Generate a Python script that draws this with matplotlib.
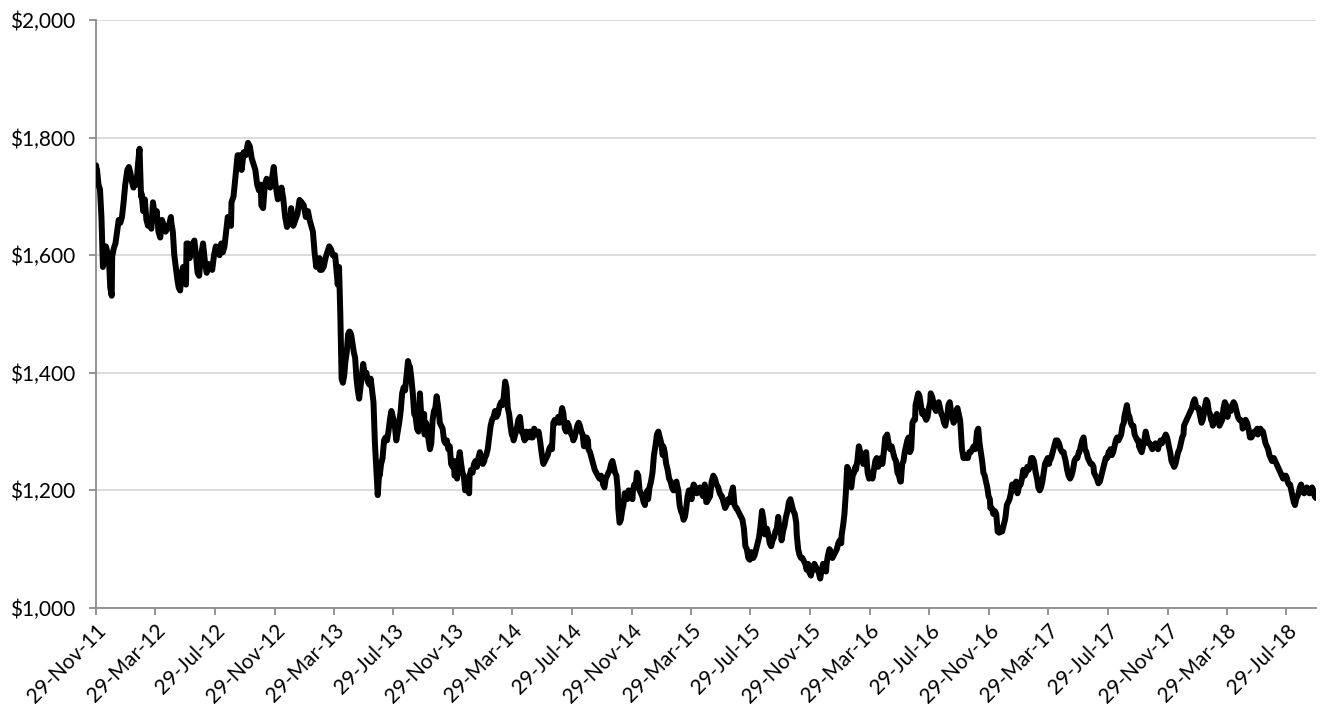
import numpy as np
import pandas as pd
import matplotlib
matplotlib.use('Agg')
import matplotlib.pyplot as plt
import matplotlib.dates as mdates
from matplotlib.ticker import FuncFormatter, MultipleLocator

# Gold price (USD/oz), grouped by month.
# Each inner list holds the readings for one month, in order.
p2011 = [
    [1753, 1746],
    [1745, 1720, 1712, 1665, 1580, 1592, 1615, 1606, 1600, 1545, 1531],
]
p2012 = [
    [1598, 1612, 1620, 1640, 1660, 1655, 1665, 1690, 1720, 1740],
    [1745, 1750, 1740, 1725, 1715, 1730, 1720, 1755, 1781, 1700],
    [1705, 1675, 1695, 1660, 1650, 1655, 1645, 1690, 1670, 1662],
    [1675, 1640, 1630, 1660, 1650, 1640, 1645, 1652, 1665],
    [1655, 1640, 1600, 1580, 1560, 1545, 1540, 1570, 1580, 1560, 1550],
    [1620, 1620, 1595, 1610, 1620, 1625, 1600, 1570, 1565, 1595],
    [1600, 1620, 1590, 1570, 1585, 1580, 1575, 1600, 1615],
    [1605, 1610, 1600, 1620, 1605, 1615, 1640, 1665, 1660, 1650],
    [1690, 1700, 1735, 1770, 1770, 1745, 1775, 1770],
    [1775, 1791, 1785, 1765, 1755, 1745, 1720, 1710, 1720],
    [1685, 1680, 1720, 1730, 1725, 1715, 1730, 1750, 1720],
    [1715, 1695, 1700, 1715, 1695, 1665, 1648, 1655, 1665],
]
p2013 = [
    [1680, 1650, 1660, 1670, 1694, 1690, 1685, 1665],
    [1670, 1675, 1660, 1650, 1640, 1605, 1580, 1590, 1595],
    [1575, 1575, 1580, 1595, 1605, 1615, 1610, 1600, 1598],
    [1600, 1575, 1550, 1580, 1500, 1390, 1383, 1395, 1420, 1435, 1465, 1470],
    [1470, 1465, 1450, 1435, 1425, 1390, 1370, 1356, 1375, 1395, 1415, 1400],
    [1395, 1400, 1385, 1380, 1390, 1370, 1350, 1280, 1235, 1192, 1230],
    [1225, 1245, 1255, 1285, 1290, 1285, 1300, 1320, 1335, 1325, 1315],
    [1310, 1285, 1300, 1315, 1335, 1365, 1375, 1370, 1395, 1420, 1410],
    [1410, 1390, 1365, 1330, 1325, 1305, 1300, 1365, 1325, 1325, 1330],
    [1295, 1315, 1305, 1285, 1270, 1280, 1320, 1335, 1340, 1360, 1345, 1325],
    [1315, 1310, 1305, 1285, 1280, 1285, 1270, 1275, 1245, 1240, 1250],
    [1225, 1230, 1220, 1250, 1265, 1245, 1230, 1225, 1200, 1205, 1210, 1195],
]
p2014 = [
    [1225, 1235, 1230, 1245, 1250, 1240, 1255, 1265, 1255, 1245, 1250],
    [1255, 1260, 1270, 1290, 1310, 1320, 1325, 1335, 1325, 1330],
    [1335, 1345, 1350, 1345, 1360, 1385, 1375, 1340, 1330, 1310, 1295, 1290],
    [1285, 1295, 1305, 1320, 1325, 1300, 1295, 1285, 1300, 1290],
    [1295, 1300, 1290, 1290, 1305, 1300, 1295, 1300, 1285, 1265, 1248],
    [1245, 1250, 1255, 1260, 1270, 1275, 1270, 1315, 1320, 1315, 1320],
    [1325, 1315, 1325, 1340, 1330, 1305, 1300, 1315, 1310, 1300, 1295, 1290],
    [1285, 1290, 1300, 1310, 1315, 1310, 1300, 1295, 1275, 1280, 1290, 1285],
    [1270, 1265, 1255, 1245, 1235, 1230, 1225, 1220, 1225, 1215],
    [1210, 1205, 1220, 1225, 1230, 1235, 1245, 1250, 1240, 1230, 1225, 1200],
    [1170, 1145, 1150, 1165, 1175, 1195, 1195, 1185, 1200, 1195, 1190, 1185],
    [1200, 1210, 1205, 1230, 1225, 1200, 1195, 1190, 1180, 1175, 1195, 1200],
]
p2015 = [
    [1185, 1205, 1215, 1230, 1260, 1275, 1295, 1300, 1290, 1280, 1260],
    [1275, 1265, 1245, 1235, 1220, 1215, 1205, 1200, 1210, 1215],
    [1210, 1200, 1175, 1165, 1160, 1150, 1155, 1170, 1190, 1200, 1195, 1185],
    [1200, 1210, 1205, 1195, 1200, 1205, 1195, 1190, 1210, 1180],
    [1180, 1185, 1190, 1215, 1225, 1220, 1210, 1205, 1195, 1190],
    [1190, 1180, 1170, 1175, 1185, 1180, 1195, 1205, 1175, 1170],
    [1170, 1165, 1160, 1155, 1150, 1135, 1105, 1100, 1085, 1082, 1095],
    [1090, 1085, 1090, 1100, 1110, 1120, 1140, 1165, 1150, 1125, 1135],
    [1135, 1125, 1110, 1105, 1115, 1120, 1130, 1135, 1155, 1130, 1125],
    [1115, 1130, 1140, 1155, 1165, 1180, 1185, 1175, 1165, 1160, 1145],
    [1125, 1100, 1090, 1085, 1085, 1080, 1075, 1065, 1075, 1060, 1055],
    [1060, 1065, 1075, 1070, 1065, 1060, 1050, 1065, 1075, 1070, 1062],
]
p2016 = [
    [1075, 1090, 1100, 1095, 1085, 1090, 1095, 1100, 1110, 1115, 1110],
    [1125, 1140, 1160, 1195, 1240, 1235, 1210, 1205, 1225, 1230, 1240],
    [1235, 1250, 1275, 1265, 1260, 1245, 1250, 1265, 1230, 1220, 1230],
    [1230, 1220, 1235, 1250, 1255, 1240, 1250, 1255, 1245, 1265, 1290],
    [1290, 1295, 1280, 1270, 1275, 1265, 1255, 1250, 1230, 1225, 1215],
    [1215, 1245, 1250, 1265, 1275, 1285, 1290, 1265, 1270, 1315, 1320, 1320],
    [1345, 1355, 1365, 1360, 1345, 1330, 1335, 1325, 1320, 1325, 1340, 1350],
    [1365, 1360, 1350, 1340, 1335, 1345, 1350, 1340, 1330, 1325, 1315, 1310],
    [1315, 1325, 1345, 1350, 1335, 1325, 1315, 1320, 1335, 1340, 1330, 1320],
    [1310, 1270, 1255, 1255, 1260, 1255, 1265, 1265, 1270, 1275, 1270],
    [1275, 1300, 1305, 1280, 1265, 1250, 1230, 1225, 1215, 1205, 1190, 1185],
    [1170, 1170, 1160, 1165, 1160, 1130, 1128, 1135, 1130, 1140, 1150],
]
p2017 = [
    [1155, 1175, 1180, 1185, 1195, 1210, 1200, 1210, 1215, 1195, 1205, 1210],
    [1210, 1220, 1235, 1225, 1230, 1240, 1235, 1240, 1255, 1255, 1250],
    [1245, 1230, 1220, 1205, 1200, 1205, 1215, 1230, 1245, 1250, 1255, 1245],
    [1250, 1255, 1265, 1275, 1285, 1285, 1280, 1270, 1265, 1265],
    [1260, 1250, 1235, 1225, 1220, 1225, 1235, 1250, 1255, 1255, 1265],
    [1265, 1275, 1285, 1290, 1270, 1265, 1255, 1250, 1245, 1245, 1240],
    [1230, 1225, 1220, 1212, 1215, 1225, 1235, 1245, 1255, 1255, 1265],
    [1265, 1270, 1260, 1265, 1275, 1285, 1290, 1285, 1290, 1295, 1310, 1315],
    [1325, 1335, 1345, 1330, 1325, 1315, 1310, 1310, 1295, 1290, 1285, 1285],
    [1275, 1270, 1265, 1275, 1285, 1300, 1290, 1280, 1280, 1275, 1270, 1275],
    [1275, 1280, 1275, 1270, 1280, 1285, 1280, 1285, 1290, 1295, 1290, 1280],
    [1275, 1265, 1250, 1245, 1240, 1245, 1255, 1265, 1270, 1280, 1290, 1295],
]
p2018 = [
    [1310, 1315, 1320, 1325, 1330, 1335, 1340, 1350, 1355, 1345, 1340, 1340],
    [1335, 1325, 1315, 1320, 1330, 1345, 1354, 1350, 1335, 1330, 1320, 1315],
    [1310, 1320, 1325, 1330, 1320, 1310, 1315, 1320, 1340, 1350, 1345, 1325],
    [1335, 1340, 1335, 1345, 1350, 1345, 1335, 1325, 1320, 1320, 1315],
    [1305, 1310, 1320, 1315, 1305, 1290, 1290, 1295, 1300, 1300, 1305],
    [1295, 1300, 1305, 1300, 1300, 1290, 1280, 1275, 1270, 1260, 1255, 1250],
    [1250, 1255, 1250, 1245, 1240, 1235, 1230, 1225, 1220, 1225, 1225, 1220],
    [1215, 1210, 1210, 1200, 1190, 1180, 1175, 1185, 1190, 1195, 1205, 1210, 1200],
    [1200, 1195, 1200, 1205, 1200, 1195, 1200, 1205, 1200, 1190, 1187],
]

first_day = pd.Timestamp('2011-11-29')
last_day = pd.Timestamp('2018-09-28')

# Spread each month's readings over the days of that month
monthly = p2011 + p2012 + p2013 + p2014 + p2015 + p2016 + p2017 + p2018
months = pd.period_range('2011-11', '2018-09', freq='M')
dates, prices = [], []
for per, vals in zip(months, monthly):
    lo = max(per.start_time, first_day)
    hi = min(per.end_time.normalize(), last_day)
    span = (hi - lo).days
    for k, v in enumerate(vals):
        frac = k / (len(vals) - 1) if len(vals) > 1 else 0
        dates.append(lo + pd.Timedelta(days=span * frac))
        prices.append(v)

tick_dates = pd.date_range('2011-11-01', '2018-07-01', freq='4MS') + pd.Timedelta(days=28)

plt.rcParams['font.family'] = ['Lato', 'DejaVu Sans']

fig = plt.figure(figsize=(13.25, 7.15), dpi=100, facecolor='white')
ax = fig.add_axes([0.0725, 0.1497, 0.9207, 0.8223])

ax.plot(dates, prices, color='black', linewidth=4.3, solid_joinstyle='round',
        solid_capstyle='round', zorder=3)

ax.set_ylim(1000, 2000)
ax.yaxis.set_major_locator(MultipleLocator(200))
ax.yaxis.set_major_formatter(FuncFormatter(lambda v, p: '${:,.0f}'.format(v)))
ax.set_xlim(first_day, last_day)
ax.set_xticks(tick_dates)
ax.xaxis.set_major_formatter(mdates.DateFormatter('%d-%b-%y'))

ax.grid(axis='y', color='#d9d9d9', linewidth=1.3, zorder=0)
ax.set_axisbelow(True)
for s in ['top', 'right']:
    ax.spines[s].set_visible(False)
for s in ['left', 'bottom']:
    ax.spines[s].set_color('#8c8c8c')
    ax.spines[s].set_linewidth(1.3)

ax.tick_params(axis='both', direction='out', length=5, width=1.3, color='#8c8c8c',
               labelsize=15, labelcolor='black')
ax.tick_params(axis='y', pad=10)
ax.tick_params(axis='x', pad=4)
for lbl in ax.get_xticklabels():
    lbl.set_rotation(45)
    lbl.set_ha('right')
    lbl.set_rotation_mode('anchor')

fig.savefig('out.png', dpi=100, facecolor='white')
